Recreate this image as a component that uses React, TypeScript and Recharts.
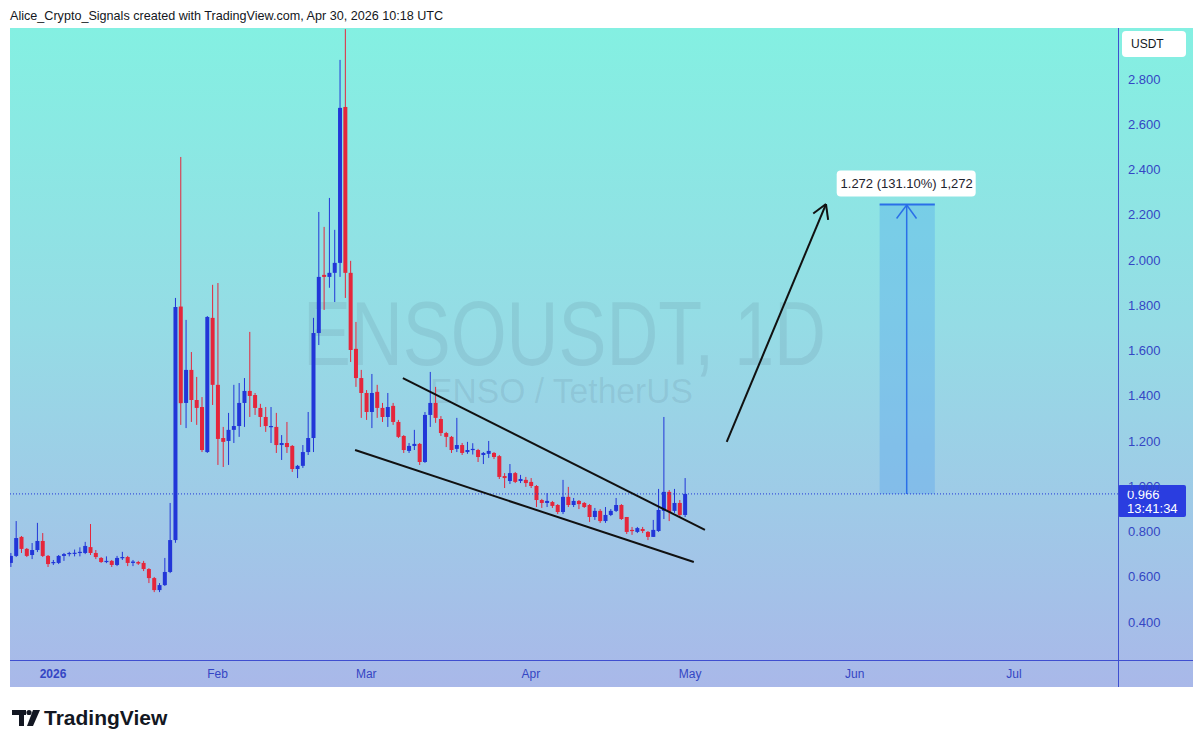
import { Bar, ComposedChart, ReferenceArea, ReferenceDot, ReferenceLine, XAxis, YAxis } from 'recharts'

// ENSOUSDT 1D — candles. x = days since Jan 1 2026.
const BLUE = '#2236d8'
const RED = '#e5263b'
const AXIS_BLUE = '#3446c4'
const FONT = '"Liberation Sans", Arial, sans-serif'

const FIRST_DAY = -8 // Dec 24, 2025
const X_MIN = -8.1
const X_MAX = 200.6

const opens = [
  0.661, 0.692, 0.776, 0.723, 0.696, 0.718, 0.758, 0.692,
  0.661, 0.661, 0.692, 0.700, 0.703, 0.706, 0.705, 0.731, 0.705, 0.683,
  0.665, 0.670, 0.652, 0.683, 0.687, 0.661, 0.665, 0.661, 0.634, 0.594,
  0.541, 0.563, 0.621, 0.762, 1.794, 1.368, 1.514, 1.381, 1.350, 1.151,
  1.744, 1.448, 1.213, 1.200, 1.249, 1.266, 1.368, 1.421, 1.403, 1.346,
  1.306, 1.262, 1.262, 1.182, 1.191, 1.178, 1.076, 1.090, 1.151, 1.213,
  1.677, 1.934, 1.925, 1.943, 1.987, 2.676, 1.943, 1.607, 1.478, 1.412,
  1.328, 1.417, 1.346, 1.306, 1.355, 1.284, 1.222, 1.156, 1.178, 1.187,
  1.107, 1.315, 1.368, 1.297, 1.235, 1.218, 1.165, 1.182, 1.151, 1.160,
  1.160, 1.138, 1.143, 1.147, 1.133, 1.045, 1.023, 1.058, 1.023, 1.028,
  1.019, 1.001, 0.939, 0.926, 0.930, 0.917, 0.886, 0.953, 0.917, 0.935,
  0.926, 0.917, 0.864, 0.891, 0.846, 0.873, 0.891, 0.917, 0.864, 0.807,
  0.798, 0.811, 0.798, 0.776, 0.802, 0.891, 0.975, 0.891, 0.926, 0.873,
]
const highs = [
  0.705, 0.846, 0.780, 0.727, 0.749, 0.838, 0.793, 0.696,
  0.674, 0.696, 0.705, 0.710, 0.720, 0.730, 0.754, 0.833, 0.718, 0.687,
  0.690, 0.674, 0.692, 0.710, 0.692, 0.674, 0.670, 0.670, 0.638, 0.599,
  0.572, 0.683, 0.926, 1.832, 2.455, 1.735, 1.593, 1.483, 1.394, 1.752,
  1.890, 1.898, 1.262, 1.324, 1.448, 1.456, 1.478, 1.682, 1.412, 1.364,
  1.350, 1.350, 1.324, 1.226, 1.284, 1.182, 1.094, 1.182, 1.328, 1.744,
  2.212, 2.146, 2.274, 2.133, 2.884, 3.020, 1.996, 1.726, 1.514, 1.425,
  1.496, 1.448, 1.368, 1.412, 1.368, 1.293, 1.226, 1.191, 1.249, 1.191,
  1.328, 1.505, 1.439, 1.310, 1.240, 1.222, 1.302, 1.191, 1.196, 1.190,
  1.165, 1.151, 1.200, 1.151, 1.138, 1.058, 1.098, 1.063, 1.050, 1.041,
  1.036, 1.005, 0.944, 0.970, 0.935, 0.921, 1.028, 0.997, 0.948, 0.939,
  0.930, 0.921, 0.904, 0.899, 0.908, 0.899, 0.948, 0.921, 0.864, 0.820,
  0.820, 0.820, 0.802, 0.851, 0.988, 1.306, 0.983, 0.988, 0.939, 1.036,
]
const lows = [
  0.643, 0.687, 0.705, 0.687, 0.678, 0.709, 0.687, 0.643,
  0.652, 0.656, 0.670, 0.690, 0.690, 0.690, 0.700, 0.696, 0.678, 0.661,
  0.660, 0.643, 0.647, 0.674, 0.647, 0.647, 0.652, 0.625, 0.572, 0.532,
  0.532, 0.559, 0.616, 0.750, 1.271, 1.257, 1.284, 1.271, 1.151, 1.147,
  1.359, 1.094, 1.085, 1.094, 1.191, 1.218, 1.262, 1.306, 1.315, 1.262,
  1.240, 1.191, 1.147, 1.116, 1.147, 1.063, 1.036, 1.081, 1.138, 1.151,
  1.624, 1.779, 1.877, 1.814, 1.925, 1.832, 1.549, 1.439, 1.302, 1.293,
  1.257, 1.302, 1.284, 1.262, 1.271, 1.213, 1.147, 1.147, 1.160, 1.094,
  1.103, 1.262, 1.280, 1.222, 1.173, 1.147, 1.151, 1.138, 1.143, 1.140,
  1.107, 1.098, 1.125, 1.120, 1.032, 0.992, 1.010, 1.014, 1.014, 0.997,
  0.992, 0.908, 0.904, 0.908, 0.904, 0.877, 0.877, 0.908, 0.908, 0.899,
  0.904, 0.842, 0.851, 0.838, 0.838, 0.868, 0.886, 0.851, 0.789, 0.785,
  0.793, 0.793, 0.762, 0.776, 0.798, 0.855, 0.846, 0.882, 0.864, 0.864,
]
const closes = [
  0.692, 0.771, 0.723, 0.692, 0.718, 0.758, 0.692, 0.656,
  0.665, 0.692, 0.700, 0.705, 0.706, 0.710, 0.736, 0.705, 0.687, 0.665,
  0.670, 0.652, 0.683, 0.687, 0.661, 0.667, 0.658, 0.634, 0.594, 0.541,
  0.563, 0.621, 0.762, 1.792, 1.367, 1.514, 1.381, 1.346, 1.160, 1.748,
  1.448, 1.209, 1.196, 1.249, 1.266, 1.368, 1.421, 1.399, 1.346, 1.306,
  1.266, 1.266, 1.182, 1.191, 1.173, 1.076, 1.090, 1.151, 1.213, 1.677,
  1.925, 1.925, 1.943, 1.987, 2.672, 1.943, 1.602, 1.478, 1.412, 1.328,
  1.412, 1.346, 1.306, 1.350, 1.284, 1.218, 1.160, 1.178, 1.187, 1.107,
  1.315, 1.368, 1.302, 1.235, 1.218, 1.160, 1.182, 1.147, 1.160, 1.165,
  1.129, 1.147, 1.156, 1.129, 1.041, 1.036, 1.058, 1.019, 1.032, 1.014,
  1.001, 0.939, 0.926, 0.935, 0.913, 0.886, 0.953, 0.917, 0.935, 0.921,
  0.908, 0.864, 0.891, 0.846, 0.873, 0.891, 0.917, 0.855, 0.798, 0.802,
  0.815, 0.802, 0.776, 0.807, 0.895, 0.975, 0.886, 0.926, 0.873, 0.966,
]

const monthTicks = [0, 31, 59, 90, 120, 151, 181]
const monthLabels = ['2026', 'Feb', 'Mar', 'Apr', 'May', 'Jun', 'Jul']
const priceTicks = [0.4, 0.6, 0.8, 1.0, 1.2, 1.4, 1.6, 1.8, 2.0, 2.2, 2.4, 2.6, 2.8]
const lastPrice = 0.966
const countdown = '13:41:34'

// hand drawings, in (day, price)
const wedgeUpper = [{ x: 65.9, y: 1.478 }, { x: 122.8, y: 0.807 }]
const wedgeLower = [{ x: 56.9, y: 1.16 }, { x: 120.7, y: 0.665 }]
const arrowLine = [{ x: 126.9, y: 1.196 }, { x: 145.6, y: 2.247 }]
const arrowHead = [{ x: 143.2, y: 2.205 }, { x: 145.6, y: 2.247 }, { x: 146.0, y: 2.177 }]
const targetBox = { x1: 155.7, x2: 166.1, y1: 0.966, y2: 2.245, mid: 160.8 }
const targetHead = [{ x: 158.9, y: 2.183 }, { x: 160.8, y: 2.243 }, { x: 162.65, y: 2.183 }]
const targetLabel = '1.272 (131.10%) 1,272'

const data = opens.map((o, i) => ({
  day: FIRST_DAY + i,
  open: o,
  high: highs[i],
  low: lows[i],
  close: closes[i],
  range: [lows[i], highs[i]],
}))

function Candle(props: any) {
  const { x, y, width, height, payload } = props
  const { open, close, high, low } = payload
  const color = close >= open ? BLUE : RED
  const top = Math.min(y, y + height)
  const h = Math.abs(height)
  const px = (v: number) => top + ((high - v) / (high - low)) * h
  const cx = x + width / 2
  const bTop = px(Math.max(open, close))
  const bBot = px(Math.min(open, close))
  return (
    <g>
      <line x1={cx} x2={cx} y1={top} y2={top + h} stroke={color} strokeWidth={1} />
      <rect x={x} y={bTop} width={width} height={Math.max(1.2, bBot - bTop)} fill={color} />
    </g>
  )
}

function MonthTick({ x, y, payload }: any) {
  const i = monthTicks.indexOf(payload.value)
  return (
    <text x={x} y={y + 18} textAnchor="middle" fill={AXIS_BLUE} fontSize={12} fontFamily={FONT} fontWeight={i === 0 ? 700 : 400}>
      {monthLabels[i]}
    </text>
  )
}

function PriceTag({ cx, cy }: any) {
  return (
    <g fontFamily={FONT}>
      <rect x={cx} y={cy - 9} width={68} height={32} fill="#2a3de0" rx={2} />
      <text x={cx + 9} y={cy + 5} fill="#fff" fontSize={13}>{lastPrice.toFixed(3)}</text>
      <text x={cx + 9} y={cy + 19} fill="#fff" fontSize={13}>{countdown}</text>
    </g>
  )
}

function TargetTag({ cx, cy }: any) {
  return (
    <g fontFamily={FONT}>
      <rect x={cx - 70} y={cy - 34} width={139} height={26} rx={4} fill="#fff" />
      <text x={cx} y={cy - 16} textAnchor="middle" fill="#1e222d" fontSize={13}>{targetLabel}</text>
    </g>
  )
}

export default function App() {
  const seg = (a: { x: number; y: number }, b: { x: number; y: number }) => [a, b] as any
  return (
    <div style={{ position: 'absolute', left: 0, top: 0, width: 1200, height: 747, background: '#fff', fontFamily: FONT }}>
      <div style={{ position: 'absolute', left: 10, top: 9, fontSize: 12.6, color: '#131722', whiteSpace: 'nowrap' }}>
        Alice_Crypto_Signals created with TradingView.com, Apr 30, 2026 10:18 UTC
      </div>
      <div style={{ position: 'absolute', left: 10, top: 28, width: 1183, height: 659, background: 'linear-gradient(180deg, #84f0e2 0%, #95dce5 45%, #a9b8e9 100%)' }} />
      <svg width={1200} height={747} style={{ position: 'absolute', left: 0, top: 0 }}>
        <text x={303} y={365} fontSize={90} textLength={523} lengthAdjust="spacingAndGlyphs" fill="#4d6478" fillOpacity={0.13} fontFamily={FONT}>ENSOUSDT, 1D</text>
        <text x={430} y={403} fontSize={35} textLength={263} lengthAdjust="spacingAndGlyphs" fill="#4d6478" fillOpacity={0.13} fontFamily={FONT}>ENSO / TetherUS</text>
      </svg>
      <div style={{ position: 'absolute', left: 0, top: 0 }}>
        <ComposedChart width={1200} height={747} data={data} margin={{ top: 28, right: 7, bottom: 60, left: 10 }}>
          <XAxis dataKey="day" type="number" domain={[X_MIN, X_MAX]} allowDataOverflow ticks={monthTicks} interval={0}
            axisLine={false} tickLine={false} tickSize={0} tickMargin={0} height={27} tick={<MonthTick />} />
          <YAxis orientation="right" type="number" domain={[0.232, 3.025]} allowDataOverflow ticks={priceTicks} interval={0}
            axisLine={false} tickLine={false} tickSize={0} tickMargin={10} width={75}
            tick={{ fill: AXIS_BLUE, fontSize: 13, fontFamily: FONT }} tickFormatter={(v: number) => v.toFixed(3)} />
          <ReferenceArea x1={targetBox.x1} x2={targetBox.x2} y1={targetBox.y1} y2={targetBox.y2} fill="#3b93f0" fillOpacity={0.27} stroke="none" />
          <ReferenceLine segment={seg({ x: targetBox.x1, y: targetBox.y2 }, { x: targetBox.x2, y: targetBox.y2 })} stroke="#2a6fe8" strokeWidth={2} />
          <ReferenceLine segment={seg({ x: targetBox.mid, y: targetBox.y1 }, { x: targetBox.mid, y: targetBox.y2 })} stroke="#2a6fe8" strokeWidth={1.5} />
          <ReferenceLine segment={seg(targetHead[0], targetHead[1])} stroke="#2a6fe8" strokeWidth={1.5} />
          <ReferenceLine segment={seg(targetHead[1], targetHead[2])} stroke="#2a6fe8" strokeWidth={1.5} />
          <ReferenceLine y={lastPrice} stroke={BLUE} strokeDasharray="1 2" />
          <Bar dataKey="range" barSize={4} shape={<Candle />} isAnimationActive={false} />
          <ReferenceLine segment={seg(wedgeUpper[0], wedgeUpper[1])} stroke="#111" strokeWidth={2} />
          <ReferenceLine segment={seg(wedgeLower[0], wedgeLower[1])} stroke="#111" strokeWidth={2} />
          <ReferenceLine segment={seg(arrowLine[0], arrowLine[1])} stroke="#111" strokeWidth={2} />
          <ReferenceLine segment={seg(arrowHead[0], arrowHead[1])} stroke="#111" strokeWidth={2} />
          <ReferenceLine segment={seg(arrowHead[1], arrowHead[2])} stroke="#111" strokeWidth={2} />
          <ReferenceDot x={targetBox.mid} y={targetBox.y2} r={0} shape={(p: any) => <TargetTag {...p} />} />
          <ReferenceDot x={X_MAX} y={lastPrice} r={0} shape={(p: any) => <PriceTag {...p} />} />
        </ComposedChart>
      </div>
      <div style={{ position: 'absolute', left: 10, top: 660, width: 1183, height: 1, background: '#3f4fd0' }} />
      <div style={{ position: 'absolute', left: 1118, top: 28, width: 1, height: 659, background: '#3f4fd0' }} />
      <div style={{ position: 'absolute', left: 1122, top: 31, width: 64, height: 26, background: '#fff', borderRadius: 4, fontSize: 12, color: '#131722', lineHeight: '26px', paddingLeft: 9, boxSizing: 'border-box' }}>
        USDT
      </div>
      <svg width={200} height={40} style={{ position: 'absolute', left: 0, top: 700 }}>
        <rect x={12} y={10} width={14} height={5} fill="#131722" />
        <rect x={19} y={10} width={5} height={16} fill="#131722" />
        <circle cx={29} cy={12.5} r={2.6} fill="#131722" />
        <polygon points="33,10 40,10 33,26 27,26" fill="#131722" />
        <text x={44} y={25} fontSize={21} fontWeight={700} fill="#131722" fontFamily={FONT}>TradingView</text>
      </svg>
    </div>
  )
}
